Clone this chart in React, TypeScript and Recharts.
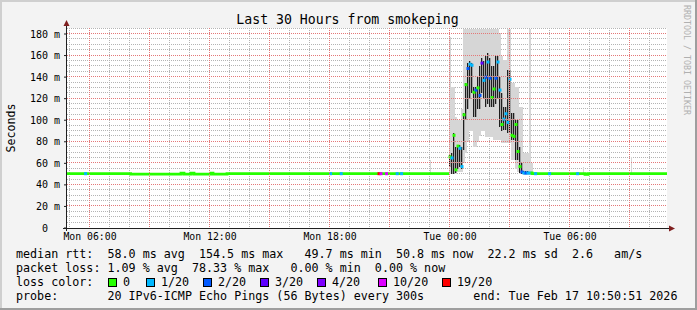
import React from 'react';
import { ComposedChart, Bar, Line, Scatter, XAxis, YAxis, CartesianGrid } from 'recharts';

const W = 697;
const H = 310;
const MONO = '"DejaVu Sans Mono", monospace';

// hours since Mon 00:00, 30 h window ending Tue 10:50
const T_START = 4.85;
const T_END = 34.85;
const Y_MAX = 185.57;
const PLOT_LEFT = 67;
const PLOT_TOP = 28;
const PLOT_BOTTOM = 228;
const PLOT_W = 600;
const PX_PER_MS = 200 / Y_MAX;
const PX_PER_H = PLOT_W / (T_END - T_START);

const xTicks = [6, 12, 18, 24, 30];
const xTickLabels = ['Mon 06:00', 'Mon 12:00', 'Mon 18:00', 'Tue 00:00', 'Tue 06:00'];
const yTicks = [0, 20, 40, 60, 80, 100, 120, 140, 160, 180];
const yTickLabels = ['0\u00a0\u00a0', '20 m', '40 m', '60 m', '80 m', '100 m', '120 m', '140 m', '160 m', '180 m'];

// grid: minor every hour / 5 ms, major every 3 h / 20 ms
const majorXh = [6, 9, 12, 15, 18, 21, 24, 27, 30, 33];
const majorYms = [20, 40, 60, 80, 100, 120, 140, 160, 180];
const minorXh = Array.from({ length: 30 }, (_, i) => 5 + i).filter((h) => !majorXh.includes(h));
const minorYms = Array.from({ length: 37 }, (_, i) => 5 + i * 5).filter((v) => !majorYms.includes(v));

// nudge grid lines onto pixel centres so the dotted lines stay crisp
const gx = (h: number) => h - 0.025;
const gy = (v: number) => {
  const y = PLOT_BOTTOM - v * PX_PER_MS;
  return (PLOT_BOTTOM - (Math.round(y) - 0.5)) / PX_PER_MS;
};
const toX = (h: number) => PLOT_LEFT + (h - T_START) * PX_PER_H;
const toY = (v: number) => PLOT_BOTTOM - v * PX_PER_MS;

// loss colours: 0, 1/20, 2/20, 3/20, 4/20, 10/20, 19/20
const lossColors = ['#26ff00', '#00b8ff', '#0059ff', '#5e00ff', '#7e00ff', '#dd00ff', '#ff0000'];
const lossLabels = ['0', '1/20', '2/20', '3/20', '4/20', '10/20', '19/20'];

// median rtt (ms) drawn as the flat line, null = gap during the spike
const flatT = [4.85, 8.03, 10.55, 10.7, 11.05, 11.2, 12.05, 12.15, 12.85, 23.95, 24.0, 28.05, 30.75, 30.9, 34.85];
const flatMed = [50.4, 50.0, 50.8, 50.0, 50.8, 50.0, 50.8, 50.0, 50.4, 50.4, null, 50.4, 49.7, 50.4, 50.4];

// median markers coloured by loss
const markT = [
  5.78, 18.03, 18.56, 20.45, 20.55, 20.83, 21.36, 21.58,
  24.0, 24.1, 24.2, 24.3, 24.4, 24.5, 24.6, 24.7, 24.8, 24.9,
  25.0, 25.1, 25.2, 25.3, 25.4, 25.5, 25.6, 25.7, 25.8, 25.9,
  26.0, 26.1, 26.2, 26.3, 26.4, 26.5, 26.6, 26.7, 26.8, 26.9,
  27.0, 27.1, 27.2, 27.3, 27.4, 27.5, 27.6, 27.7, 27.8, 27.9,
  28.0, 28.1, 28.28, 28.98, 30.38,
];
const markV = [
  50.4, 50.4, 50.4, 50.4, 50.4, 50.4, 50.4, 50.4,
  66, 65, 86, 54, 76, 74, 57, 105, 133, 148,
  152, 151, 126, 128, 130, 123, 153, 137, 140, 154,
  139, 121, 129, 139, 154, 128, 96, 101, 106, 98,
  138, 86, 85, 96, 71, 57, 52, 51, 51, 51,
  51, 51, 50.4, 50.4, 50.4,
];
const markLoss = [
  1, 1, 1, 6, 5, 5, 1, 1,
  0, 1, 0, 0, 0, 1, 1, 0, 0, 2,
  1, 1, 0, 2, 0, 2, 3, 1, 2, 1,
  2, 0, 0, 2, 1, 1, 0, 1, 1, 1,
  1, 0, 0, 0, 0, 0, 2, 1, 2, 1,
  1, 0, 1, 1, 1,
];

// smoke: full ping spread (light) and dense core (dark), ms
const smokeT = [
  23.025,
  24.0, 24.1, 24.2, 24.3, 24.4, 24.5, 24.6, 24.7, 24.8, 24.9,
  25.0, 25.1, 25.2, 25.3, 25.4, 25.5, 25.6, 25.7, 25.8, 25.9,
  26.0, 26.1, 26.2, 26.3, 26.4, 26.5, 26.6, 26.7, 26.8, 26.9,
  27.0, 27.1, 27.2, 27.3, 27.4, 27.5, 27.6, 27.7, 27.8, 27.9,
  28.0, 28.1, 30.675, 33.075,
];
const smokeLo = [
  51,
  50, 50, 50, 50, 52, 52, 52, 60, 70, 80,
  90, 90, 75, 75, 80, 85, 90, 90, 84, 84,
  84, 84, 82, 82, 82, 82, 79, 79, 79, 79,
  79, 63, 63, 55, 52, 50, 50, 49, 49, 49,
  49, 49, 50, 50,
];
const smokeHi = [
  63,
  177, 131, 131, 103, 100, 100, 110, 185, 185, 185,
  185, 185, 185, 185, 185, 185, 185, 185, 185, 185,
  185, 185, 185, 185, 185, 181, 160, 156, 156, 185,
  185, 135, 135, 131, 131, 112, 112, 70, 70, 70,
  185, 60, 57, 66,
];
const coreLo = [
  null,
  57, 50, 50, 51, 55, 57, 55, 72, 100, 110,
  120, 125, 103, 103, 110, 110, 125, 120, 112, 115,
  112, 112, 112, 115, 120, 94, 90, 91, 91, 88,
  88, 82, 82, 63, 63, 51, 50, 50, 50, 50,
  50, null, null, null,
];
const coreHi = [
  null,
  68, 70, 88, 75, 77, 77, 75, 107, 135, 153,
  155, 153, 131, 131, 140, 150, 158, 155, 160, 162,
  158, 150, 150, 160, 160, 140, 125, 112, 112, 147,
  147, 107, 107, 100, 100, 75, 60, 53, 53, 53,
  52, null, null, null,
];

const smokeData = smokeT.map((t, i) => ({ t, lo: smokeLo[i], hi: smokeHi[i], clo: coreLo[i], chi: coreHi[i] }));
const flatData = flatT.map((t, i) => ({ t, v: flatMed[i] }));
const markData = markT.map((t, i) => ({ t, v: markV[i], loss: markLoss[i] }));

const legendLines = [
  'median rtt:  58.0 ms avg  154.5 ms max   49.7 ms min  50.8 ms now  22.2 ms sd  2.6   am/s',
  'packet loss: 1.09 % avg  78.33 % max   0.00 % min  0.00 % now',
  'loss color:',
  'probe:       20 IPv6-ICMP Echo Pings (56 Bytes) every 300s       end: Tue Feb 17 10:50:51 2026',
];
const lossBoxX = [108, 146, 203, 260, 317, 378, 442];

const Marker = (p: any) => {
  if (p.cx == null || p.cy == null) return null;
  return <rect x={p.cx - 1.5} y={p.cy - 1.5} width={3} height={3} fill={lossColors[p.payload.loss]} />;
};

const hiddenAxis = (id: string) => (
  <XAxis xAxisId={id} dataKey="t" type="number" domain={[T_START, T_END]} allowDataOverflow hide />
);

const MGRID = '#e47878';

export default function App() {
  return (
    <div style={{ position: 'absolute', left: 0, top: 0, width: W, height: H, background: '#f3f3f3' }}>
      <ComposedChart width={W} height={H} data={smokeData} margin={{ top: PLOT_TOP, right: 30, bottom: 52, left: 0 }}>
        <CartesianGrid
          fill="#ffffff"
          verticalValues={minorXh.map(gx)}
          horizontalValues={minorYms.map(gy)}
          stroke="#b4b4b4"
          strokeDasharray="1 1"
        />
        <XAxis
          dataKey="t"
          type="number"
          domain={[T_START, T_END]}
          allowDataOverflow
          ticks={xTicks}
          interval={0}
          tickFormatter={(v: number) => xTickLabels[xTicks.indexOf(v)]}
          height={30}
          axisLine={false}
          tickLine={false}
          tickSize={0}
          tickMargin={5}
          tick={{ fontFamily: MONO, fontSize: 9.8, fill: '#000' }}
        />
        {hiddenAxis('s1')}
        {hiddenAxis('s2')}
        {hiddenAxis('s3')}
        <YAxis
          type="number"
          domain={[0, Y_MAX]}
          allowDataOverflow
          ticks={yTicks}
          interval={0}
          tickFormatter={(v: number) => yTickLabels[yTicks.indexOf(v)]}
          width={PLOT_LEFT}
          axisLine={false}
          tickLine={{ stroke: '#1f1f1f' }}
          tickSize={3}
          tickMargin={4}
          tick={{ fontFamily: MONO, fontSize: 10, fill: '#000' }}
        />
        <Bar xAxisId="s1" dataKey={(d: any) => [d.lo, d.hi]} fill="#d6d6d6" barSize={2} shapeRendering="crispEdges" isAnimationActive={false} />
        <Bar xAxisId="s2" dataKey={(d: any) => (d.clo == null ? null : [d.clo, d.chi])} fill="#a4a4a4" barSize={2} shapeRendering="crispEdges" isAnimationActive={false} />
        <Bar xAxisId="s3" dataKey={(d: any) => (d.clo == null ? null : [d.clo, d.chi])} fill="#1e1e1e" barSize={1} shapeRendering="crispEdges" isAnimationActive={false} />
        <Line
          data={flatData}
          dataKey="v"
          type="stepAfter"
          stroke="#26ff00"
          strokeWidth={2.8}
          dot={false}
          activeDot={false}
          connectNulls={false}
          isAnimationActive={false}
        />
        <Scatter data={markData} dataKey="v" shape={Marker} isAnimationActive={false} />
      </ComposedChart>

      <svg width={W} height={H} style={{ position: 'absolute', left: 0, top: 0, pointerEvents: 'none' }}>
        <rect x={0} y={0} width={W} height={2} fill="#cfcfcf" />
        <rect x={0} y={0} width={2} height={H} fill="#cfcfcf" />
        <rect x={0} y={H - 2} width={W} height={2} fill="#9e9e9e" />
        <rect x={W - 2} y={0} width={2} height={H} fill="#9e9e9e" />

        {/* major grid, rrdtool style dotted red */}
        {majorXh.map((h) => (
          <line key={`mx${h}`} x1={toX(gx(h))} y1={PLOT_TOP} x2={toX(gx(h))} y2={PLOT_BOTTOM} stroke={MGRID} strokeDasharray="1 1" />
        ))}
        {majorYms.map((v) => (
          <line key={`my${v}`} x1={PLOT_LEFT} y1={toY(gy(v))} x2={PLOT_LEFT + PLOT_W} y2={toY(gy(v))} stroke={MGRID} strokeDasharray="1 1" />
        ))}

        <line x1={66.5} y1={231} x2={66.5} y2={25} stroke="#1f1f1f" />
        <polygon points="63.5,26 69.5,26 66.5,20" fill="#7f1f1f" />
        <line x1={63} y1={228.5} x2={670} y2={228.5} stroke="#1f1f1f" />
        <polygon points="669,225.5 669,231.5 675,228.5" fill="#7f1f1f" />

        <text x={347.5} y={24} textAnchor="middle" fontFamily={MONO} fontSize={13.2} fill="#000">
          Last 30 Hours from smokeping
        </text>
        <text transform="translate(15,128) rotate(-90)" textAnchor="middle" fontFamily={MONO} fontSize={11.6} fill="#000">
          Seconds
        </text>
        <text transform="translate(684,5) rotate(90)" fontFamily={MONO} fontSize={8.3} fill="#b0b0b0">
          RRDTOOL / TOBI OETIKER
        </text>

        {legendLines.map((s, i) => (
          <text key={i} x={16} y={258 + i * 14} fontFamily={MONO} fontSize={11.7} fill="#000" style={{ whiteSpace: 'pre' }}>
            {s}
          </text>
        ))}
        {lossBoxX.map((x, i) => (
          <g key={i}>
            <rect x={x + 0.5} y={278.5} width={8} height={8} fill={lossColors[i]} stroke="#000" />
            <text x={x + 15} y={286} fontFamily={MONO} fontSize={11.7} fill="#000">
              {lossLabels[i]}
            </text>
          </g>
        ))}
      </svg>
    </div>
  );
}
